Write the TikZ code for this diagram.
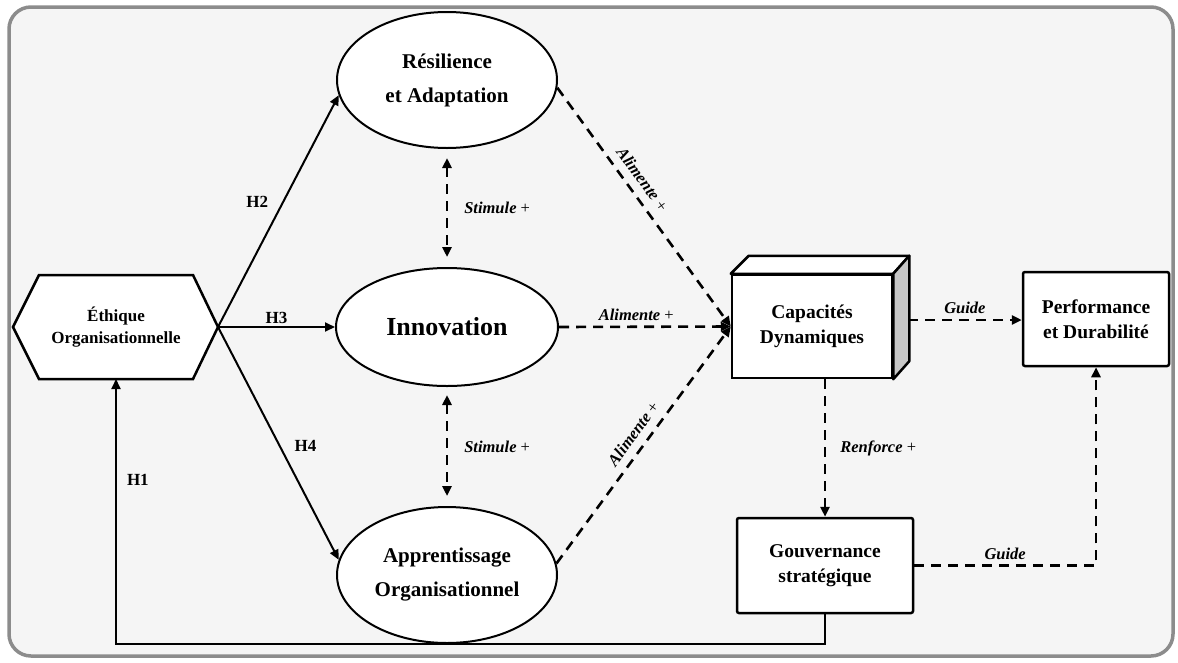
\documentclass[tikz,border=0pt]{standalone}
\usepackage{fontspec}
\setmainfont{Liberation Serif}
\usetikzlibrary{shapes.geometric,arrows.meta,calc}
\begin{document}
\begin{tikzpicture}[x=1pt,y=-1pt,
  ell/.style={ellipse, draw, line width=2pt, fill=white, minimum width=220pt, minimum height=136pt, inner sep=0pt, align=center, font=\bfseries\fontsize{21}{34}\selectfont},
  boxn/.style={draw, line width=2.5pt, fill=white, rounded corners=2pt, align=center, inner sep=0pt, font=\bfseries\fontsize{19.5}{25}\selectfont},
  tip/.style={-{Triangle[length=10pt,width=9pt]}},
  arr/.style={line width=2pt, tip},
  darr/.style={line width=2.6pt, dash pattern=on 10pt off 7pt, tip},
  ddarr/.style={line width=2.6pt, dash pattern=on 10pt off 7pt, {Triangle[length=10pt,width=9pt]}-{Triangle[length=10pt,width=9pt]}},
  lab/.style={inner sep=2pt, font=\bfseries\itshape\fontsize{16.5}{18}\selectfont},
  hlab/.style={inner sep=2pt, font=\bfseries\fontsize{17}{18}\selectfont}
]
\useasboundingbox (0,0) rectangle (1178,662);
\fill[white] (0,0) rectangle (1178,662);
\draw[line width=3.5pt, draw=black!45, fill=black!4, rounded corners=22pt] (9,7) rectangle (1173,656);

% Ethique hexagon
\draw[line width=2.5pt, fill=white, line join=miter] (13,327) -- (39,275) -- (193,275) -- (218,327) -- (193,379) -- (39,379) -- cycle;
\node[align=center, font=\bfseries\fontsize{17}{22}\selectfont] (eth) at (116,327) {Éthique\\Organisationnelle};
\coordinate (ethR) at (218,327);
\coordinate (ethB) at (116,379);

% ellipses
\node[ell] (res) at (447,80) {Résilience\\et Adaptation};
\node[ell, minimum height=118pt, minimum width=222pt, font=\bfseries\fontsize{26}{30}\selectfont] (inn) at (447,327) {Innovation};
\node[ell] (app) at (447,575) {Apprentissage\\Organisationnel};

% Capacites 3D box
\node[boxn, rounded corners=0pt, minimum width=160pt, minimum height=103pt] (cap) at (812,326.5) {Capacités\\Dynamiques};
\draw[line width=2.5pt, fill=white, line join=round] (cap.north west) -- ++(18,-18) -- ($(cap.north east)+(16,-18)$) -- (cap.north east) -- cycle;
\draw[line width=2.5pt, fill=black!22, line join=round] (cap.north east) -- ++(16,-18) -- ($(cap.south east)+(16,-18)$) -- (cap.south east) -- cycle;
\coordinate (capside) at (908,320);

\node[boxn, minimum width=146pt, minimum height=94pt] (perf) at (1096,319) {Performance\\et Durabilité};
\node[boxn, minimum width=176pt, minimum height=95pt] (gov) at (825,565.5) {Gouvernance\\stratégique};

% H arrows
\draw[arr] (ethR) -- node[hlab, pos=0.54, left=12pt] {H2} (res.188);
\draw[arr] (ethR) -- node[hlab, above] {H3} (inn.west);
\draw[arr] (ethR) -- node[hlab, pos=0.51, right=12pt] {H4} (app.172);
\draw[arr] (gov.south) -- ++(0,30) -| node[hlab, pos=0.81, right=8pt] {H1} (ethB);

% Stimule
\draw[ddarr, shorten <=9pt, shorten >=10pt] (res.south) -- node[lab, right=14pt] {Stimule \textnormal{+}} (inn.north);
\draw[ddarr, shorten <=8pt, shorten >=10pt] (inn.south) -- node[lab, right=14pt] {Stimule \textnormal{+}} (app.north);

% Alimente
\draw[darr] (res.-4) -- node[lab, pos=0.42, sloped, above=6pt] {Alimente \textnormal{+}} (cap.west);
\draw[darr] (inn.east) -- node[lab, pos=0.45, above=3pt] {Alimente \textnormal{+}} (cap.west);
\draw[darr] (app.6) -- node[lab, pos=0.51, sloped, above=6pt] {Alimente \textnormal{+}} (cap.west);

% right side
\draw[darr] (capside) -- node[lab, above=3pt] {Guide} (perf.west |- capside);
\draw[darr] (gov.north |- cap.south) -- node[lab, right=12pt] {Renforce \textnormal{+}} (gov.north);
\draw[darr] (gov.east) -- node[lab, above=3pt] {Guide} (perf.south |- gov.east) -- (perf.south);
\end{tikzpicture}
\end{document}
